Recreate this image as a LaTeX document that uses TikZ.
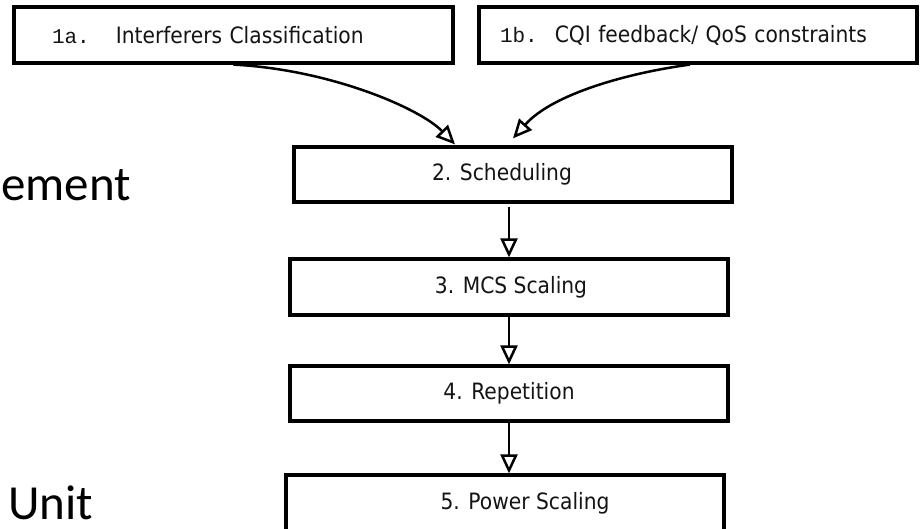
\documentclass[tikz,border=0pt]{standalone}
\usepackage{fontspec}
\usetikzlibrary{arrows.meta,calc}
\newfontfamily\boxfont[FakeStretch=0.9]{DejaVu Sans}
\newfontfamily\numfont{Liberation Mono}
\newfontfamily\bigfont{Carlito}
\definecolor{ink}{HTML}{141414}
\begin{document}
\begin{tikzpicture}[x=1pt,y=-1pt,
  box/.style={draw=black, line width=3.2pt, rectangle, inner sep=0pt,
    minimum width=438pt, minimum height=55pt, text=ink,
    font=\boxfont\fontsize{22.5}{26}\selectfont},
  arr/.style={line width=2.5pt, -{Triangle[open, length=19pt, width=17pt, line width=2.5pt]}},
  bigtxt/.style={anchor=base west, inner sep=0pt, text=black,
    font=\bigfont\fontsize{49}{58}\selectfont}]
\useasboundingbox (0,0) rectangle (923,528);
\clip (0,0) rectangle (923,528);
\fill[white] (0,0) rectangle (923,528);

% top boxes
\node[box, minimum height=56pt, text width=363pt, align=left, inner xsep=38pt]
  (a) at (233.5,35) {{\numfont\fontsize{21}{24}\selectfont 1a.}\hspace{26pt}Interferers Classification};
\node[box, minimum height=56pt, text width=396pt, align=left, inner xsep=21pt]
  (b) at (698,35) {{\numfont\fontsize{21}{24}\selectfont 1b.}\hspace{17pt}CQI feedback/ QoS constraints};

% chain boxes
\node[box] (s) at (513,174.5) {2. Scheduling\hspace*{22pt}};
\node[box, minimum height=56pt] (m) at (509,287) {\hspace*{4pt}3. MCS Scaling};
\node[box] (r) at (509,393.5) {4. Repetition};
\node[box, minimum height=56pt] (p) at (505,503) {\hspace*{40pt}5. Power Scaling};

% side text
\node[bigtxt] (t1) at (1,200) {ement};
\node[bigtxt] (t2) at (8,519) {Unit};

% curved arrows
\coordinate (ta) at ($(s.north)+(-58,-1)$);
\coordinate (tb) at ($(s.north)+(0,-7)$);
\draw[arr] (a.south) .. controls +(97,5) and +(-35,-36) .. (ta);
\draw[arr] ($(b.south)+(-8,0)$) .. controls +(-60,8) and +(40,-45) .. (tb);

% vertical arrows
\coordinate (ax) at (509,0);
\draw[arr] ($(s.south -| ax)+(0,3)$) -- (m.north -| ax);
\draw[arr] (m.south -| ax) -- (r.north -| ax);
\draw[arr] (r.south -| ax) -- (p.north -| ax);
\end{tikzpicture}
\end{document}
